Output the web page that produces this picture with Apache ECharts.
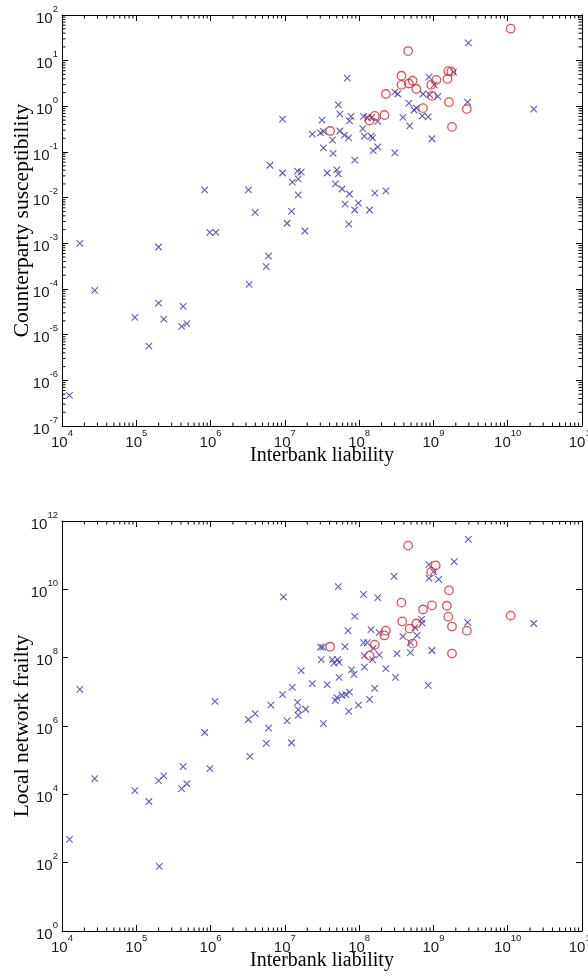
<!DOCTYPE html>
<html>
<head>
<meta charset="utf-8">
<script src="https://cdn.jsdelivr.net/npm/echarts@6/dist/echarts.min.js"></script>
<style>
    html, body { margin: 0; padding: 0; background: #fff; }
    #chart { width: 588px; height: 980px; }
</style>
</head>
<body>
<div id="chart"></div>
<script>
const xTicks = [4, 5, 6, 7, 8, 9, 10, 11]
const topYTicks = [-7, -6, -5, -4, -3, -2, -1, 0, 1, 2]
const botYTicks = [0, 2, 4, 6, 8, 10, 12]

// top panel: counterparty susceptibility
const topCrossX = [4.10, 4.24, 4.44, 4.98, 5.17, 5.30, 5.30, 5.37, 5.61, 5.68, 5.63, 5.92, 5.99, 6.07, 6.51, 6.52, 6.60, 6.75, 6.78, 6.80,
    6.97, 6.97, 7.03, 7.09, 7.10, 7.17, 7.18, 7.18, 7.22, 7.27, 7.37, 7.48, 7.50, 7.52, 7.52, 7.57, 7.64, 7.65, 7.70, 7.72,
    7.68, 7.72, 7.74, 7.74, 7.77, 7.80, 7.81, 7.84, 7.86, 7.86, 7.87, 7.87, 7.89, 7.94, 7.94, 7.99, 8.06, 8.11, 8.05, 8.07,
    8.16, 8.18, 8.14, 8.17, 8.25, 8.19, 8.25, 8.21, 8.36, 8.48, 8.48, 8.52, 8.59, 8.67, 8.68, 8.74, 8.77, 8.85, 8.93, 8.86,
    8.95, 8.94, 9.01, 9.06, 8.98, 9.27, 9.47, 9.46, 10.35]
const topCrossY = [-6.33, -3.00, -4.03, -4.62, -5.25, -3.08, -4.31, -4.66, -4.82, -4.76, -4.38, -1.83, -2.76, -2.76, -1.83, -3.90, -2.32, -3.51, -3.28, -1.29,
    -0.28, -1.46, -2.56, -2.30, -1.66, -1.42, -1.59, -1.94, -1.44, -2.73, -0.61, -0.58, -0.30, -0.55, -0.91, -1.46, -0.74, -1.03, -1.39, -1.48,
    -1.70, 0.03, -0.17, -0.54, -1.81, -0.63, -2.14, 0.62, -0.69, -2.58, -0.32, -1.92, -0.22, -1.18, -2.27, -2.12, -0.22, -0.25, -0.49, -0.65,
    -0.65, -0.69, -2.27, -0.24, -0.33, -0.97, -0.89, -1.90, -1.85, -1.02, 0.31, 0.27, -0.24, 0.07, -0.43, -0.08, -0.04, -0.21, -0.23, 0.27,
    0.25, 0.64, 0.47, 0.22, -0.71, 0.75, 1.39, 0.09, -0.06]
const topCircleX = [10.04, 8.66, 8.57, 8.57, 8.67, 8.72, 8.77, 8.36, 8.86, 8.97, 9.04, 8.98, 9.20, 9.24, 9.19, 9.21, 9.25, 9.45, 8.34, 8.21, 8.14, 7.61]
const topCircleY = [1.70, 1.21, 0.67, 0.47, 0.50, 0.56, 0.38, 0.27, -0.04, 0.47, 0.58, 0.23, 0.77, 0.76, 0.60, 0.09, -0.45, -0.06, -0.19, -0.21, -0.31, -0.54]

// bottom panel: local network frailty
const botCrossX = [4.10, 4.24, 4.44, 4.98, 5.17, 5.30, 5.31, 5.37, 5.61, 5.68, 5.63, 5.92, 5.99, 6.06, 6.51, 6.53, 6.60, 6.75, 6.78, 6.81,
    6.98, 6.97, 7.03, 7.09, 7.10, 7.17, 7.18, 7.18, 7.22, 7.28, 7.37, 7.48, 7.51, 7.49, 7.52, 7.57, 7.64, 7.66, 7.71, 7.73,
    7.68, 7.70, 7.72, 7.73, 7.77, 7.82, 7.81, 7.85, 7.86, 7.87, 7.90, 7.93, 7.94, 7.99, 8.06, 8.06, 8.11, 8.07, 8.07, 8.16,
    8.19, 8.18, 8.14, 8.21, 8.25, 8.27, 8.27, 8.36, 8.47, 8.49, 8.51, 8.59, 8.69, 8.69, 8.75, 8.78, 8.84, 8.85, 8.93, 8.94,
    9.00, 8.94, 9.07, 8.98, 9.28, 9.47, 9.46, 10.35]
const botCrossY = [2.68, 7.07, 4.46, 4.11, 3.79, 4.40, 1.89, 4.54, 4.17, 4.31, 4.81, 5.81, 4.75, 6.72, 6.19, 5.11, 6.36, 5.49, 5.94, 6.61,
    9.78, 6.92, 6.15, 5.51, 7.13, 6.69, 6.48, 6.31, 7.62, 6.49, 7.24, 8.31, 8.31, 7.94, 6.07, 7.21, 7.94, 7.84, 7.94, 7.86,
    6.75, 6.83, 10.08, 7.42, 6.90, 6.92, 8.32, 8.79, 6.43, 6.99, 7.65, 7.51, 9.21, 6.61, 9.85, 8.44, 8.44, 8.06, 7.72, 8.82,
    8.28, 7.94, 6.78, 7.10, 9.76, 8.73, 8.08, 7.68, 10.38, 7.42, 8.12, 8.62, 8.15, 8.44, 8.88, 8.65, 9.12, 9.01, 7.19, 10.72,
    10.52, 10.32, 10.29, 8.21, 10.81, 11.46, 9.03, 9.00]
const botCircleX = [8.66, 9.03, 8.97, 9.21, 8.57, 8.98, 9.18, 8.86, 10.04, 9.20, 8.58, 8.77, 8.68, 9.25, 9.45, 8.36, 8.34, 8.72, 8.21, 8.14, 7.61, 9.25]
const botCircleY = [11.28, 10.70, 10.51, 9.97, 9.61, 9.53, 9.52, 9.41, 9.23, 9.20, 9.06, 9.00, 8.85, 8.91, 8.79, 8.79, 8.65, 8.41, 8.38, 8.06, 8.32, 8.12]

const xName = 'Interbank liability'
const topYName = 'Counterparty susceptibility'
const botYName = 'Local network frailty'

const BLUE = '#3434a6'
const RED = '#e0202c'
const MAJOR = 6
const MINOR = 3.5

const zip = (xs, ys) => xs.map((x, i) => [x, ys[i]])
const first = a => a[0]
const last = a => a[a.length - 1]

const labelRich = {
    b: { fontFamily: 'Liberation Sans', fontSize: 15, lineHeight: 22, verticalAlign: 'bottom', color: '#1a1a1a' },
    s: { fontFamily: 'Liberation Sans', fontSize: 9.5, lineHeight: 9, verticalAlign: 'top', color: '#1a1a1a' }
}
const expLabel = v => '{b|10}{s|' + Math.round(v) + '}'

// minor log ticks (2..9 inside each decade), drawn as short lines on the frame
function minorTicks (lo, hi) {
    let out = []
    for (let d = lo; d < hi; d++) {
        for (let k = 2; k <= 9; k++) out.push(d + Math.log10(k))
    }
    return out
}

function panel (gi, yTicks, yStep, yName, crosses, circles, yMinor) {
    const xMin = first(xTicks), xMax = last(xTicks)
    const yMin = first(yTicks), yMax = last(yTicks)
    const lineStyle = { color: '#000', width: 1 }
    const frameLine = { onZero: false, lineStyle }
    const xAxes = [
        {
            gridIndex: gi, type: 'value', min: xMin, max: xMax, interval: 1, position: 'bottom',
            axisLine: frameLine, axisTick: { inside: true, length: MAJOR, lineStyle },
            axisLabel: { margin: 2, formatter: expLabel, rich: labelRich, showMinLabel: true, showMaxLabel: true },
            splitLine: { show: false },
            name: xName, nameLocation: 'middle', nameGap: 20, nameMoveOverlap: false,
            nameTextStyle: { fontFamily: 'Liberation Serif', fontSize: 20, color: '#000' }
        },
        {
            gridIndex: gi, type: 'value', min: xMin, max: xMax, interval: 1, position: 'top',
            axisLine: frameLine, axisTick: { inside: true, length: MAJOR, lineStyle },
            axisLabel: { show: false }, splitLine: { show: false }
        }
    ]
    const yAxes = [
        {
            gridIndex: gi, type: 'value', min: yMin, max: yMax, interval: yStep, position: 'left',
            axisLine: frameLine, axisTick: { inside: true, length: MAJOR, lineStyle },
            axisLabel: { margin: 4, formatter: expLabel, rich: labelRich, showMinLabel: true, showMaxLabel: true },
            splitLine: { show: false },
            name: yName, nameLocation: 'middle', nameGap: 28.5, nameRotate: 90, nameMoveOverlap: false,
            nameTextStyle: { fontFamily: 'Liberation Serif', fontSize: 21.5, color: '#000' }
        },
        {
            gridIndex: gi, type: 'value', min: yMin, max: yMax, interval: yStep, position: 'right',
            axisLine: frameLine, axisTick: { inside: true, length: MAJOR, lineStyle },
            axisLabel: { show: false }, splitLine: { show: false }
        }
    ]
    let tickData = minorTicks(xMin, xMax).map(v => [v, 0])
    if (yMinor) tickData = tickData.concat(minorTicks(yMin, yMax).map(v => [v, 1]))
    const ax = gi * 2
    const series = [
        {
            type: 'scatter', xAxisIndex: ax, yAxisIndex: ax, data: crosses,
            symbol: 'path://M0,0L10,10M10,0L0,10', symbolSize: 6.5,
            itemStyle: { color: 'none', borderColor: BLUE, borderWidth: 1.1 }
        },
        {
            type: 'scatter', xAxisIndex: ax, yAxisIndex: ax, data: circles,
            symbol: 'circle', symbolSize: 8.5,
            itemStyle: { color: 'rgba(0,0,0,0)', borderColor: RED, borderWidth: 1.3 }
        },
        {
            type: 'custom', xAxisIndex: ax, yAxisIndex: ax, data: tickData, silent: true, clip: false,
            renderItem (params, api) {
                const v = api.value(0)
                const style = { stroke: '#000', lineWidth: 1 }
                if (api.value(1) === 0) {
                    const a = api.coord([v, yMin]), b = api.coord([v, yMax])
                    return { type: 'group', children: [
                        { type: 'line', shape: { x1: a[0], y1: a[1], x2: a[0], y2: a[1] - MINOR }, style },
                        { type: 'line', shape: { x1: b[0], y1: b[1], x2: b[0], y2: b[1] + MINOR }, style }
                    ] }
                }
                const a = api.coord([xMin, v]), b = api.coord([xMax, v])
                return { type: 'group', children: [
                    { type: 'line', shape: { x1: a[0], y1: a[1], x2: a[0] + MINOR, y2: a[1] }, style },
                    { type: 'line', shape: { x1: b[0], y1: b[1], x2: b[0] - MINOR, y2: b[1] }, style }
                ] }
            }
        }
    ]
    return { xAxes, yAxes, series }
}

const topPanel = panel(0, topYTicks, 1, topYName, zip(topCrossX, topCrossY), zip(topCircleX, topCircleY), true)
const botPanel = panel(1, botYTicks, 2, botYName, zip(botCrossX, botCrossY), zip(botCircleX, botCircleY), false)

const option = {
    animation: false,
    backgroundColor: '#fff',
    grid: [
        { left: 62, right: 6, top: 15, height: 411, outerBoundsMode: 'none' },
        { left: 62, right: 6, top: 521, height: 410, outerBoundsMode: 'none' }
    ],
    xAxis: topPanel.xAxes.concat(botPanel.xAxes),
    yAxis: topPanel.yAxes.concat(botPanel.yAxes),
    series: topPanel.series.concat(botPanel.series)
}

const chart = echarts.init(document.getElementById('chart'), null, { renderer: 'canvas' })
chart.setOption(option)
</script>
</body>
</html>
